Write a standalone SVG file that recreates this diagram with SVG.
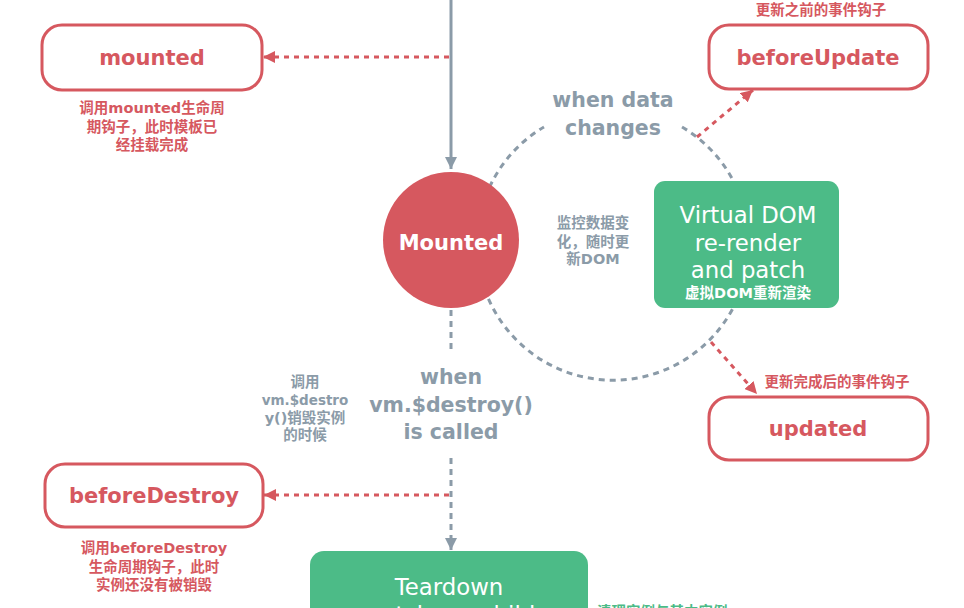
<svg xmlns="http://www.w3.org/2000/svg" width="964" height="608" viewBox="0 0 964 608">
  <style>
    .hook { fill: #ffffff; stroke: #d6585f; stroke-width: 3; }
    .hook-label { font-family: "DejaVu Sans", "Noto Sans CJK SC", sans-serif; font-weight: bold; font-size: 21px; fill: #d6585f; text-anchor: middle; }
    .note { font-family: "DejaVu Sans", "Noto Sans CJK SC", sans-serif; font-weight: bold; font-size: 14.5px; text-anchor: middle; }
    .note-start { font-family: "DejaVu Sans", "Noto Sans CJK SC", sans-serif; font-weight: bold; font-size: 14.5px; text-anchor: start; }
    .small { font-size: 13.5px; }
    .red { fill: #d6585f; }
    .gray { fill: #8b9ba8; }
    .green { fill: #4cbb87; }
    .white { fill: #ffffff; }
    .cond { font-family: "DejaVu Sans", sans-serif; font-weight: bold; font-size: 20.5px; fill: #8b9ba8; text-anchor: middle; }
    .stage { fill: #4cbb87; }
    .stage-label { font-family: "DejaVu Sans", sans-serif; font-size: 22.8px; fill: #ffffff; text-anchor: middle; }
    .flow { fill: none; stroke: #8b9ba8; stroke-width: 3; }
    .flow-dash { fill: none; stroke: #8b9ba8; stroke-width: 3; stroke-dasharray: 6 5; }
    .hook-dash { fill: none; stroke: #d6585f; stroke-width: 3; stroke-dasharray: 5 5; }
  </style>
  <defs>
    <marker id="ah-gray" viewBox="0 0 12 12" refX="12" refY="6" markerWidth="12" markerHeight="12" markerUnits="userSpaceOnUse" orient="auto">
      <path d="M0,0 L12,6 L0,12 z" fill="#8b9ba8"/>
    </marker>
    <marker id="ah-red" viewBox="0 0 12 12" refX="12" refY="6" markerWidth="12" markerHeight="12" markerUnits="userSpaceOnUse" orient="auto">
      <path d="M0,0 L12,6 L0,12 z" fill="#d6585f"/>
    </marker>
  </defs>

  <rect width="964" height="608" fill="#ffffff"/>

  <!-- connectors -->
  <g id="connectors">
    <!-- update loop around the mounted state -->
    <path class="flow-dash" d="M 682 127 A 136 136 0 1 1 544 127"/>
    <!-- incoming flow into Mounted -->
    <line class="flow" x1="451" y1="0" x2="451" y2="169" marker-end="url(#ah-gray)"/>
    <!-- hook: mounted -->
    <line class="hook-dash" x1="449" y1="57" x2="263" y2="57" marker-end="url(#ah-red)"/>
    <!-- hook: beforeUpdate -->
    <line class="hook-dash" x1="697" y1="137" x2="753" y2="90" marker-end="url(#ah-red)"/>
    <!-- hook: updated -->
    <line class="hook-dash" x1="711" y1="342" x2="757" y2="394" marker-end="url(#ah-red)"/>
    <!-- destroy path -->
    <line class="flow-dash" x1="451" y1="310" x2="451" y2="354"/>
    <line class="flow-dash" x1="451" y1="458" x2="451" y2="550" marker-end="url(#ah-gray)"/>
    <!-- hook: beforeDestroy -->
    <line class="hook-dash" x1="449" y1="495" x2="264" y2="495" marker-end="url(#ah-red)"/>
  </g>

  <!-- Mounted state -->
  <g id="mounted-state">
    <circle cx="451" cy="240" r="68" fill="#d6585f"/>
    <text x="451" y="250" font-family="DejaVu Sans, sans-serif" font-weight="bold" font-size="21px" fill="#ffffff" text-anchor="middle">Mounted</text>
  </g>

  <!-- mounted hook -->
  <g id="mounted-hook">
    <rect class="hook" x="42" y="25" width="220" height="65" rx="20"/>
    <text class="hook-label" x="152" y="65">mounted</text>
    <text class="note red" x="152" y="113">调用mounted生命周</text>
    <text class="note red" x="152" y="132">期钩子，此时模板已</text>
    <text class="note red" x="152" y="150">经挂载完成</text>
  </g>

  <!-- beforeUpdate hook -->
  <g id="before-update-hook">
    <text class="note red" x="821" y="15">更新之前的事件钩子</text>
    <rect class="hook" x="709" y="25" width="219" height="64" rx="20"/>
    <text class="hook-label" x="818" y="65">beforeUpdate</text>
  </g>

  <!-- data change condition -->
  <g id="data-change">
    <text class="cond" x="613" y="107">when data</text>
    <text class="cond" x="613" y="135">changes</text>
    <text class="note gray" x="593" y="228">监控数据变</text>
    <text class="note gray" x="593" y="247">化，随时更</text>
    <text class="note gray" x="593" y="264">新DOM</text>
  </g>

  <!-- virtual DOM re-render -->
  <g id="rerender">
    <rect class="stage" x="654" y="181" width="185" height="127" rx="11"/>
    <text class="stage-label" x="748" y="223">Virtual DOM</text>
    <text class="stage-label" x="748" y="251">re-render</text>
    <text class="stage-label" x="748" y="278">and patch</text>
    <text class="note white" x="748" y="298">虚拟DOM重新渲染</text>
  </g>

  <!-- updated hook -->
  <g id="updated-hook">
    <text class="note red" x="837" y="387">更新完成后的事件钩子</text>
    <rect class="hook" x="709" y="397" width="219" height="63" rx="20"/>
    <text class="hook-label" x="818" y="436">updated</text>
  </g>

  <!-- destroy condition -->
  <g id="destroy-call">
    <text class="cond" x="451" y="384">when</text>
    <text class="cond" x="451" y="412">vm.$destroy()</text>
    <text class="cond" x="451" y="439">is called</text>
    <text class="note gray" x="305" y="387">调用</text>
    <text class="note gray small" x="305" y="405">vm.$destro</text>
    <text class="note gray" x="305" y="423">y()销毁实例</text>
    <text class="note gray" x="305" y="440">的时候</text>
  </g>

  <!-- beforeDestroy hook -->
  <g id="before-destroy-hook">
    <rect class="hook" x="45" y="464" width="218" height="63" rx="20"/>
    <text class="hook-label" x="154" y="503">beforeDestroy</text>
    <text class="note red" x="154" y="553">调用beforeDestroy</text>
    <text class="note red" x="154" y="572">生命周期钩子，此时</text>
    <text class="note red" x="154" y="590">实例还没有被销毁</text>
  </g>

  <!-- teardown -->
  <g id="teardown">
    <rect class="stage" x="310" y="551" width="278" height="110" rx="14"/>
    <text class="stage-label" x="449" y="595">Teardown</text>
    <text class="stage-label" x="449" y="623">watchers, child</text>
    <text class="note-start green" x="597" y="617">清理实例与其中实例</text>
  </g>
</svg>
